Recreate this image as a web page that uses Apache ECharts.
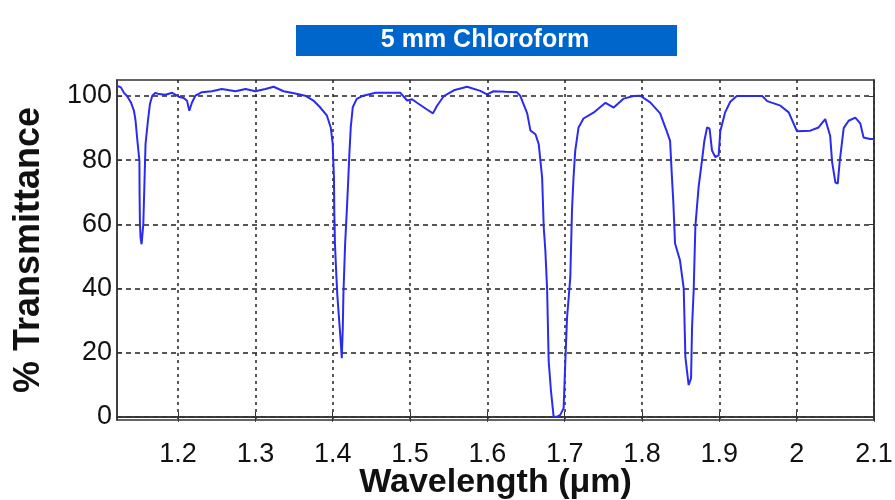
<!DOCTYPE html>
<html>
<head>
<meta charset="utf-8">
<script src="https://cdn.jsdelivr.net/npm/echarts@6/dist/echarts.min.js"></script>
<style>
  html, body { margin: 0; padding: 0; background: #fff; }
  #chart { width: 895px; height: 500px; }
</style>
</head>
<body>
<div id="chart"></div>
<script>
// spectrum
const wavelength = [
  1.121, 1.126, 1.130, 1.134, 1.139, 1.143, 1.145, 1.147, 1.150, 1.1502, 1.1507, 1.1515, 1.1528, 1.155,
  1.1567, 1.1579, 1.161, 1.1636, 1.1666, 1.1708, 1.1752, 1.1837, 1.1923, 1.2009, 1.2073, 1.2116, 1.2145,
  1.218, 1.2223, 1.2309, 1.2437, 1.2566, 1.2743, 1.2872, 1.300, 1.3129, 1.3236, 1.3364, 1.3515, 1.3643,
  1.375, 1.3836, 1.3923, 1.3974, 1.400, 1.4007, 1.4016, 1.402, 1.4029, 1.4042, 1.4059, 1.4081, 1.4103,
  1.4117, 1.413, 1.4138, 1.416, 1.4182, 1.4202, 1.4215, 1.4233, 1.4259, 1.431, 1.4395, 1.4554, 1.4747,
  1.4875, 1.4962, 1.5026, 1.509, 1.5219, 1.5296, 1.5347, 1.5437, 1.5566, 1.5738, 1.5909, 1.5995, 1.608,
  1.6231, 1.6381, 1.6424, 1.6515, 1.6557, 1.6622, 1.6664, 1.6686, 1.6708, 1.6729, 1.675, 1.6772, 1.6793,
  1.6823, 1.6857, 1.6901, 1.6943, 1.6986, 1.7008, 1.703, 1.7072, 1.7094, 1.7114, 1.7136, 1.7179, 1.7243,
  1.7372, 1.7527, 1.7634, 1.7763, 1.7891, 1.7977, 1.8106, 1.8234, 1.832, 1.8363, 1.8385, 1.8406, 1.8427,
  1.8491, 1.8539, 1.8561, 1.8583, 1.8603, 1.8634, 1.8647, 1.8668, 1.869, 1.8732, 1.8776, 1.8806, 1.8841,
  1.8874, 1.8905, 1.8948, 1.8991, 1.9012, 1.9076, 1.9141, 1.9226, 1.9555, 1.9619, 1.979, 1.9897, 1.9983,
  2.0005, 2.0176, 2.0283, 2.0369, 2.0433, 2.0458, 2.0501, 2.0531, 2.0556, 2.0608, 2.0672, 2.0758, 2.0822,
  2.0865, 2.095, 2.1
]
const transmittance = [
  103.2, 102.7, 101, 100, 98, 95.4, 92.3, 87, 79.8, 69.4, 60, 55.8, 53.8, 60,
  74.6, 85, 92.3, 97.5, 100.1, 101, 100.6, 100.4, 101, 99.8, 99.4, 98.5, 95.4,
  98, 100.1, 101.2, 101.5, 102.2, 101.5, 102.2, 101.5, 102.2, 102.9, 101.5, 100.8, 100.1,
  98.6, 96.5, 94, 90.2, 85, 79.8, 74.6, 64.2, 53.8, 46.5, 38.1, 30.8, 23.6,
  18.3, 27.7, 38.1, 53.8, 64.2, 74.6, 81.9, 90.2, 96.5, 99.1, 100.1, 101, 101,
  101, 98.6, 99, 97.9, 95.8, 94.6, 96.9, 100, 101.8, 102.9, 101.6, 100.5, 101.5,
  101.3, 101.2, 100.1, 94.6, 89.2, 88.1, 85, 79.8, 74.6, 59, 51.7, 40.2, 17.3,
  7.9, 0, 0, 0.6, 2.7, 17.3, 30.8, 43.3, 64.2, 74.6, 82.9, 90.2, 93,
  94.8, 97.9, 96.4, 99.2, 100, 100.1, 98, 94.6, 89, 86, 75.5, 66.3, 54,
  48.8, 40, 18.5, 14, 9.9, 12, 28, 39.5, 59.5, 71.7, 80, 86, 90.2,
  89.8, 83, 81, 81.5, 89, 95, 98.2, 100, 100, 98.4, 97, 94.9, 90.2,
  89, 89.2, 90.2, 92.8, 87.6, 79.5, 73, 72.7, 79.5, 90, 92.3, 93.3, 91.5,
  87.1, 86.6, 86.6
]
const xTicks = [1.2, 1.3, 1.4, 1.5, 1.6, 1.7, 1.8, 1.9, 2.0, 2.1]
const yTicks = [0, 20, 40, 60, 80, 100]

const chart = echarts.init(document.getElementById('chart'))

const frameLine = { show: true, lineStyle: { color: '#333', width: 1.5 } }
const labelFont = { fontFamily: 'Liberation Sans, Arial, sans-serif', fontSize: 27, color: '#111' }

const option = {
  animation: false,
  backgroundColor: '#fff',
  graphic: [
    {
      type: 'rect',
      shape: { x: 296, y: 25, width: 381, height: 31 },
      style: { fill: '#0066cc' }
    },
    {
      type: 'text',
      x: 485,
      y: 40.5,
      style: {
        text: '5 mm Chloroform',
        fill: '#fff',
        font: 'bold 25px "Liberation Sans", Arial, sans-serif',
        align: 'center',
        verticalAlign: 'middle'
      }
    }
  ],
  grid: {
    left: 117,
    top: 80,
    width: 757,
    height: 340,
    outerBoundsMode: 'none',
    containLabel: false,
    show: true,
    borderColor: '#333',
    borderWidth: 1.5
  },
  xAxis: [
    {
      type: 'value',
      min: 1.121,
      max: 2.1,
      name: 'Wavelength (μm)',
      nameLocation: 'middle',
      nameGap: 46,
      nameMoveOverlap: false,
      nameTextStyle: {
        fontFamily: 'Liberation Sans, Arial, sans-serif',
        fontSize: 34,
        fontWeight: 'bold',
        color: '#111'
      },
      axisLine: frameLine,
      axisTick: { show: true, inside: true, length: 5, customValues: xTicks, lineStyle: { color: '#333' } },
      axisLabel: {
        ...labelFont,
        margin: 21,
        customValues: xTicks,
        formatter: (v) => String(+v.toFixed(1))
      },
      splitLine: { show: true, lineStyle: { color: '#222', type: [3, 4], width: 1.5 } }
    },
    {
      type: 'value',
      position: 'top',
      min: 1.121,
      max: 2.1,
      axisLine: frameLine,
      axisTick: { show: true, inside: true, length: 5, customValues: xTicks, lineStyle: { color: '#333' } },
      axisLabel: { show: false },
      splitLine: { show: false }
    }
  ],
  yAxis: [
    {
      type: 'value',
      min: -1,
      max: 105,
      name: '% Transmittance',
      nameLocation: 'middle',
      nameGap: 70,
      nameMoveOverlap: false,
      nameTextStyle: {
        fontFamily: 'Liberation Sans, Arial, sans-serif',
        fontSize: 36,
        fontWeight: 'bold',
        color: '#111'
      },
      axisLine: frameLine,
      axisTick: { show: true, inside: true, length: 5, customValues: yTicks, lineStyle: { color: '#333' } },
      axisLabel: { ...labelFont, margin: 5, customValues: yTicks },
      splitLine: { show: true, lineStyle: { color: '#222', type: [5, 4], width: 1.5 } }
    },
    {
      type: 'value',
      position: 'right',
      min: -1,
      max: 105,
      axisLine: frameLine,
      axisTick: { show: true, inside: true, length: 5, customValues: yTicks, lineStyle: { color: '#333' } },
      axisLabel: { show: false },
      splitLine: { show: false }
    }
  ],
  series: [
    {
      type: 'line',
      data: wavelength.map((w, i) => [w, transmittance[i]]),
      showSymbol: false,
      clip: true,
      lineStyle: { color: '#2b2bf0', width: 2 }
    }
  ]
}

chart.setOption(option)
</script>
</body>
</html>
